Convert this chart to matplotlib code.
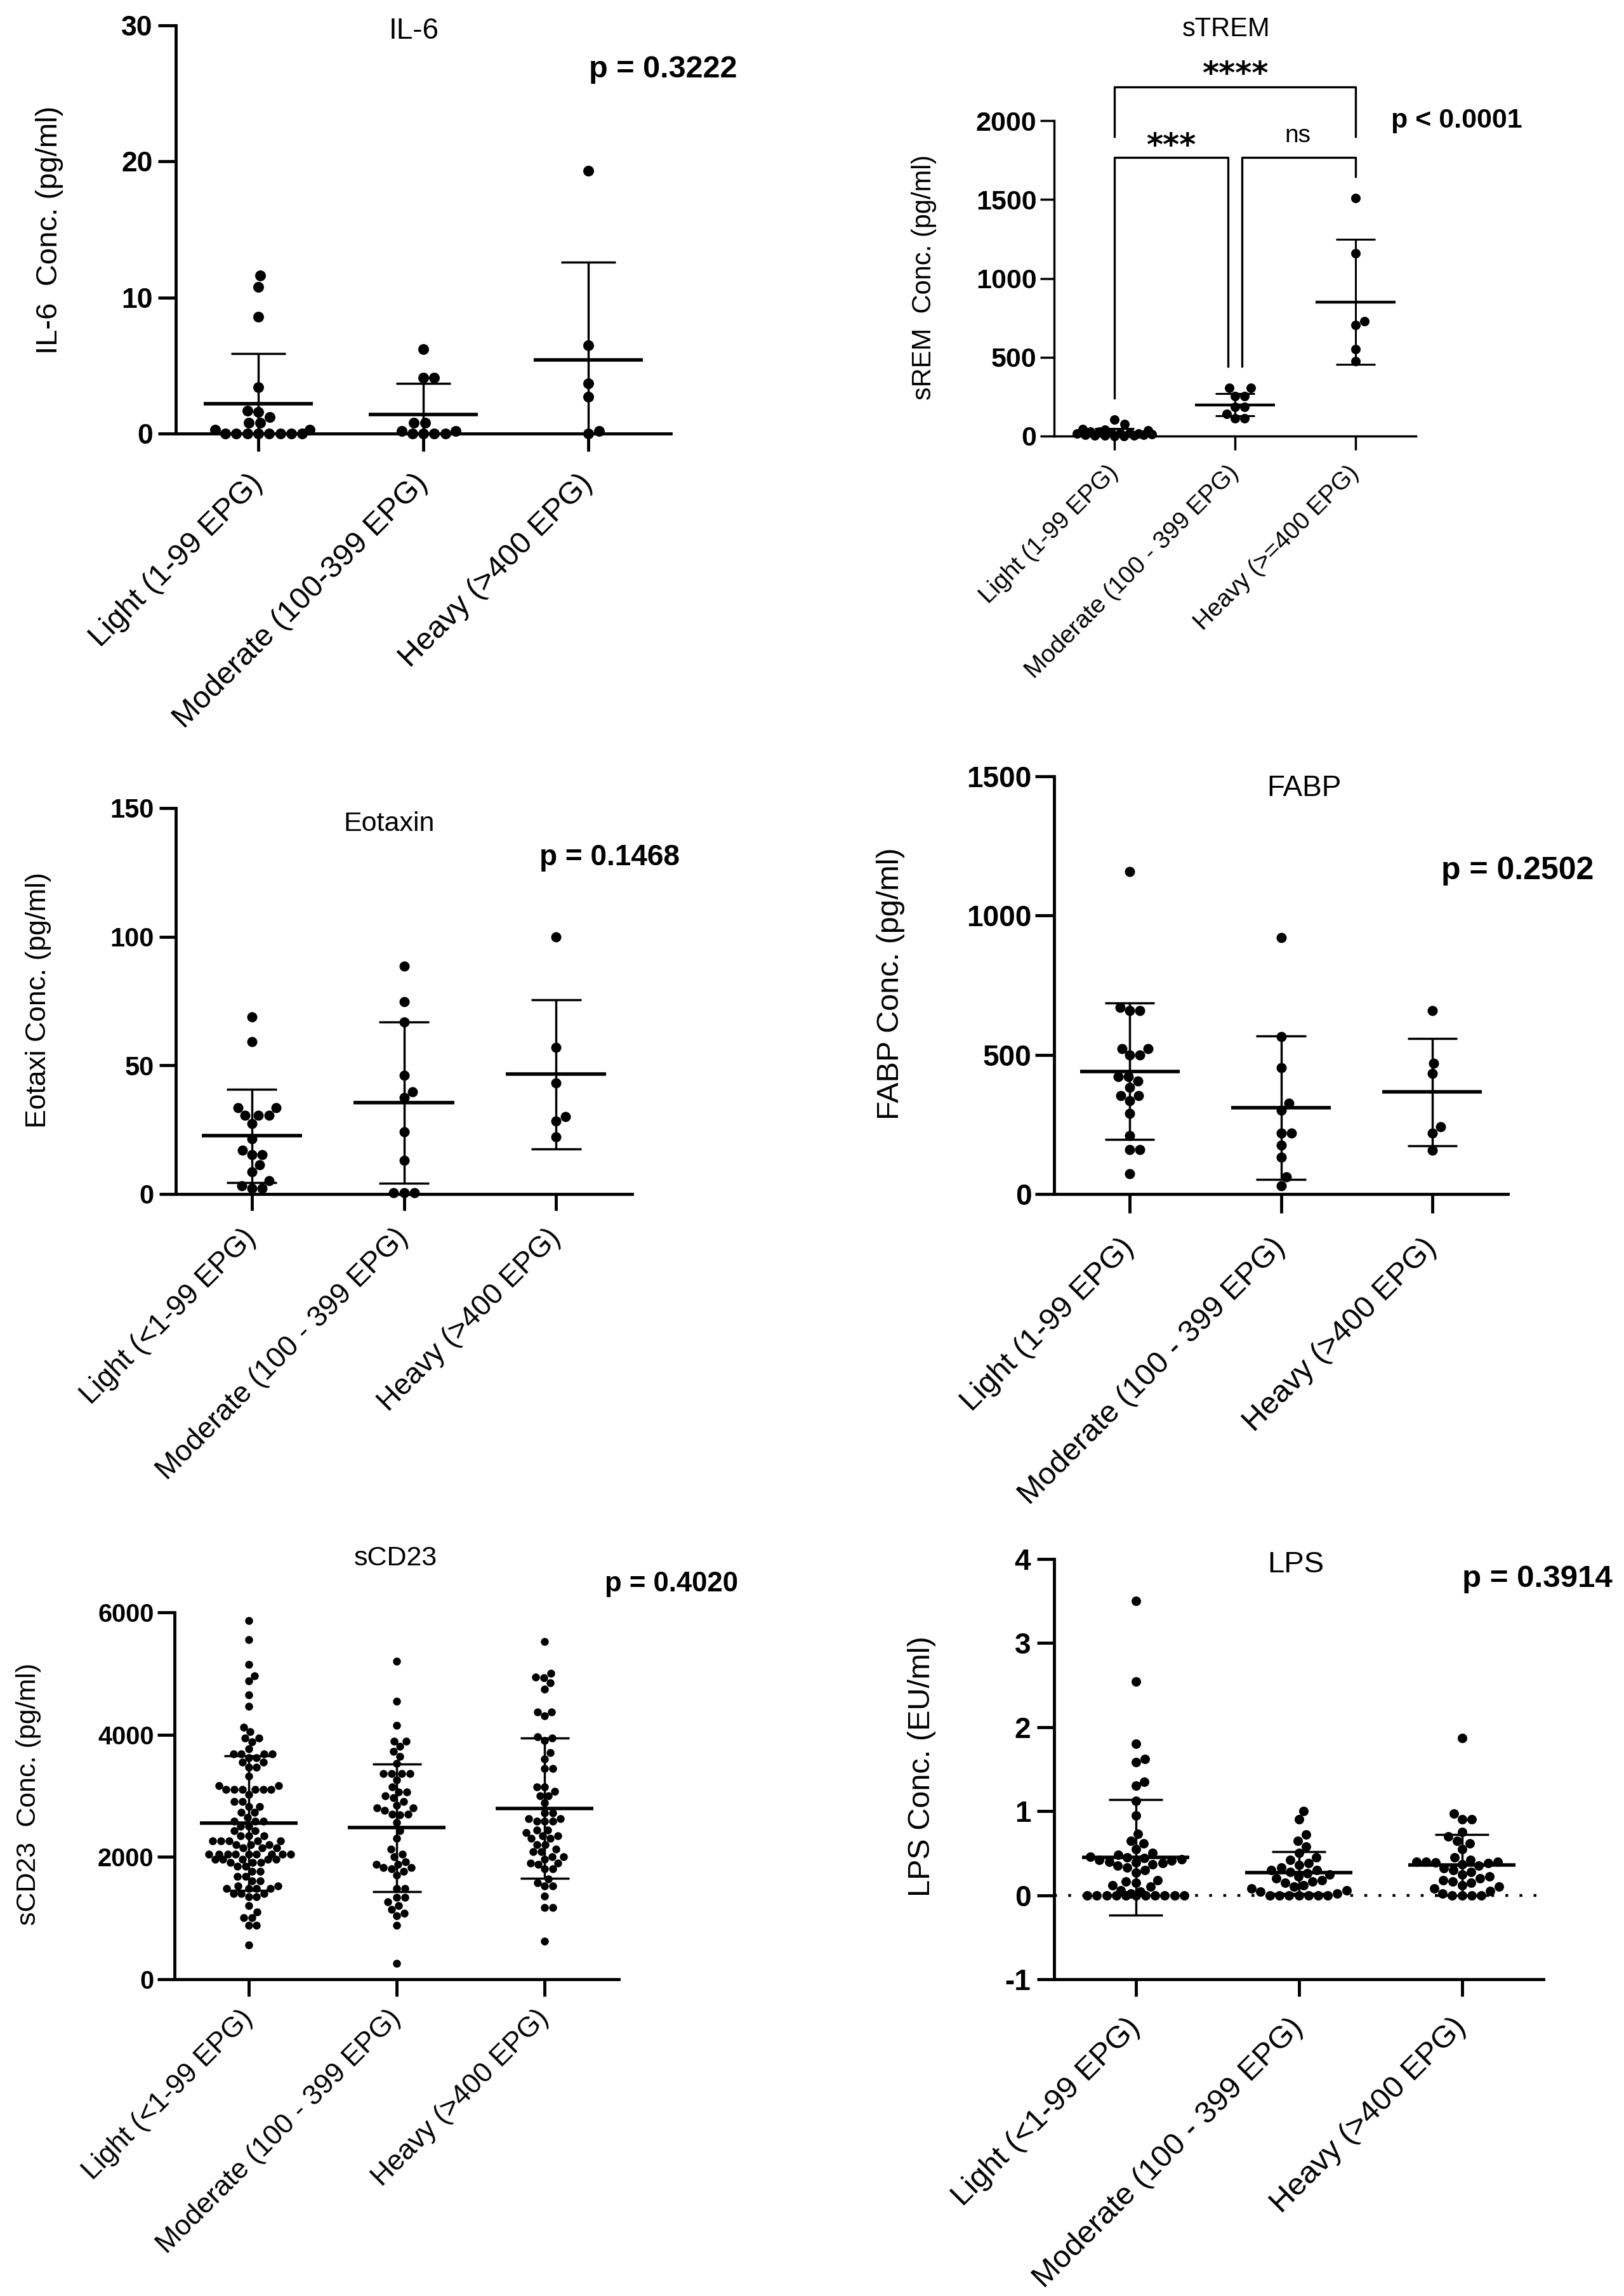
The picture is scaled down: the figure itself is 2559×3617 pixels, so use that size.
import numpy as np
import matplotlib
matplotlib.use("Agg")
import matplotlib.pyplot as plt

plt.rcParams['font.family'] = ['Liberation Sans', 'DejaVu Sans']

W, H = 2559, 3617

# ---- data ----
il6_light = [11.6, 10.8, 8.6, 3.4, 1.7, 1.6, 1.2, 0.8, 0.8, 0.3, 0.3, 0, 0, 0, 0, 0, 0, 0, 0]
il6_moderate = [6.2, 4.1, 4.1, 0.8, 0.8, 0.2, 0.2, 0, 0, 0, 0]
il6_heavy = [19.3, 6.5, 3.7, 2.7, 0.2, 0]
il6_mean = [2.2, 1.4, 5.4]
il6_sd = [3.7, 2.3, 7.2]

strem_light = [105, 77, 45, 40, 35, 30, 28, 25, 22, 20, 18, 15, 12, 10, 8, 6, 5, 3, 2, 0]
strem_moderate = [304, 304, 255, 255, 184, 184, 142, 113, 113]
strem_heavy = [1509, 1157, 729, 703, 553, 474]
strem_mean = [22, 199, 851]
strem_sd = [27, 71, 398]

eot_light = [68.8, 59.1, 33.5, 33.5, 30.6, 30.6, 30.6, 27.5, 21.4, 17, 15.3, 15.3, 11.3, 8.7, 5.2, 3.1, 2.3, 2.3]
eot_moderate = [88.6, 74.7, 66.9, 46.1, 39.6, 37.5, 24.3, 13.0, 0.5, 0.5, 0.5]
eot_heavy = [100, 57, 43.1, 30.1, 28.3, 22.2]
eot_mean = [22.6, 35.6, 46.6]
eot_sd = [18.1, 31.3, 29.0]

fabp_light = [1158, 671, 659, 659, 523, 523, 499, 499, 422, 422, 406, 382, 353, 353, 334, 289, 209, 160, 160, 72]
fabp_moderate = [922, 565, 454, 326, 302, 218, 218, 176, 133, 61, 29]
fabp_heavy = [659, 470, 433, 241, 218, 157]
fabp_mean = [441, 310, 366]
fabp_sd = [246, 258, 193]

cd23_light = [5867, 5555, 5146, 4966, 4874, 4654, 4466, 4125, 4045, 3945, 3945, 3885, 3765,
              3685, 3685, 3685, 3685, 3625, 3625, 3545, 3545, 3465, 3465, 3325, 3165, 3165,
              3105, 3105, 3105, 3105, 3105, 3105, 3025, 2905, 2905, 2825, 2825, 2725, 2725,
              2645, 2585, 2585, 2585, 2505, 2505, 2425, 2425, 2345, 2345, 2345, 2265, 2265,
              2265, 2265, 2265, 2205, 2205, 2205, 2145, 2145, 2145, 2045, 2045, 2045, 2045,
              2045, 2045, 2045, 2045, 2045, 1965, 1965, 1965, 1965, 1965, 1905, 1905, 1905,
              1845, 1845, 1765, 1765, 1685, 1685, 1605, 1605, 1525, 1525, 1485, 1485, 1485,
              1485, 1405, 1405, 1405, 1345, 1345, 1205, 1105, 1005, 1005, 885, 885, 565]
cd23_moderate = [5199, 4546, 4157, 3893, 3893, 3805, 3725, 3645, 3525, 3364, 3364, 3364, 3364,
                 3264, 3144, 3064, 3064, 3004, 2964, 2904, 2844, 2804, 2804, 2764, 2704, 2704,
                 2684, 2564, 2424, 2304, 2123, 2043, 2003, 1923, 1883, 1883, 1823, 1823, 1802,
                 1762, 1702, 1482, 1482, 1342, 1342, 1262, 1202, 1141, 1081, 1041, 881, 260]
cd23_heavy = [5527, 5006, 4946, 4934, 4846, 4746, 4373, 4373, 4305, 3965, 3945, 3905, 3705,
              3604, 3444, 3444, 3144, 3144, 3076, 3004, 3004, 2884, 2723, 2723, 2623, 2623,
              2583, 2583, 2583, 2443, 2443, 2403, 2343, 2343, 2303, 2303, 2203, 2203, 2123,
              2083, 2083, 2003, 2003, 1962, 1902, 1902, 1882, 1802, 1802, 1642, 1582, 1522,
              1522, 1362, 1169, 1169, 621]
cd23_mean = [2555, 2477, 2797]
cd23_sd = [1101, 1046, 1148]

lps_light = [3.5, 2.54, 1.8, 1.62, 1.58, 1.35, 1.30, 1.12, 0.95, 0.73, 0.65, 0.62, 0.55, 0.50,
             0.48, 0.46, 0.45, 0.44, 0.43, 0.42, 0.41, 0.40, 0.39, 0.38, 0.37, 0.35, 0.33, 0.30,
             0.27, 0.18, 0.16, 0.15, 0.12, 0.10, 0.06, 0.04, 0.02, 0, 0, 0, 0, 0, 0, 0, 0, 0, 0, 0]
lps_moderate = [1.0, 0.9, 0.72, 0.65, 0.58, 0.5, 0.45, 0.42, 0.38, 0.36, 0.33, 0.3, 0.3, 0.28,
                0.26, 0.25, 0.22, 0.2, 0.18, 0.16, 0.15, 0.12, 0.1, 0.08, 0.06, 0.04, 0.02,
                0, 0, 0, 0, 0, 0, 0]
lps_heavy = [1.87, 0.97, 0.9, 0.9, 0.75, 0.7, 0.65, 0.62, 0.55, 0.45, 0.42, 0.4, 0.4, 0.4, 0.39,
             0.38, 0.37, 0.35, 0.32, 0.3, 0.28, 0.25, 0.22, 0.2, 0.18, 0.16, 0.15, 0.12, 0.1,
             0.08, 0.05, 0.02, 0, 0, 0, 0]
lps_mean = [0.45, 0.27, 0.36]
lps_sd = [0.69, 0.25, 0.36]

cats_a = ["Light (1-99 EPG)", "Moderate (100-399 EPG)", "Heavy (>400 EPG)"]
cats_b = ["Light (1-99 EPG)", "Moderate (100 - 399 EPG)", "Heavy (>=400 EPG)"]
cats_c = ["Light (<1-99 EPG)", "Moderate (100 - 399 EPG)", "Heavy (>400 EPG)"]
cats_d = ["Light (1-99 EPG)", "Moderate (100 - 399 EPG)", "Heavy (>400 EPG)"]

fig = plt.figure(figsize=(W / 100, H / 100), dpi=100)
PT = 0.72  # px -> pt at 100 dpi


def put(x, y, s, **kw):
    fig.text(x / W, 1 - y / H, s, ha='center', va='center', **kw)


def swarm(vals, ppu, d, wmax):
    # beeswarm in pixels; if a point does not fit inside +-wmax it overlaps the least crowded spot
    y = np.asarray(vals, float) * ppu
    xs = np.zeros_like(y)
    done = []
    for i in np.argsort(y, kind='stable'):
        cands = [0.0]
        for j in done:
            dy = y[i] - y[j]
            if abs(dy) < d:
                dx = np.sqrt(d * d - dy * dy)
                cands += [xs[j] + dx, xs[j] - dx]
        cands = sorted([c for c in cands if abs(c) <= wmax + 1e-9], key=abs)
        ok = False
        for c in cands:
            if all((c - xs[j]) ** 2 + (y[i] - y[j]) ** 2 >= d * d - 1e-6 for j in done):
                xs[i] = c
                ok = True
                break
        if not ok:
            grid = np.linspace(-wmax, wmax, 41)
            score = [min(np.hypot(c - xs[j], y[i] - y[j]) for j in done) - 1e-3 * abs(c)
                     for c in grid]
            xs[i] = grid[int(np.argmax(score))]
        done.append(i)
    return xs


def panel(box, groups, means, sds, ylim, yticks, cats, fs, dot, lw=3.5, mlw=4.0, elw=2.5,
          tlen=27, ypad=5, xpad=30):
    x0, x1, yt, yb = box
    ax = fig.add_axes([x0 / W, 1 - yb / H, (x1 - x0) / W, (yb - yt) / H])
    ax.set_xlim(-0.5, 2.5)
    ax.set_ylim(*ylim)
    ppu_y = (yb - yt) / (ylim[1] - ylim[0])
    ppu_x = (x1 - x0) / 3.0
    for i, vals in enumerate(groups):
        offs = swarm(vals, ppu_y, dot * 1.02, 0.31 * ppu_x) / ppu_x
        ax.plot(i + offs, vals, 'o', ms=dot * PT, color='black', mec='none',
                clip_on=False, zorder=2)
    for i, (m, s) in enumerate(zip(means, sds)):
        ax.hlines(m, i - 0.33, i + 0.33, color='black', lw=mlw, zorder=3)
        ax.vlines(i, m - s, m + s, color='black', lw=elw, zorder=3)
        ax.hlines([m - s, m + s], i - 0.165, i + 0.165, color='black', lw=elw, zorder=3)
    for side in ['top', 'right']:
        ax.spines[side].set_visible(False)
    for side in ['left', 'bottom']:
        ax.spines[side].set_linewidth(lw)
    ax.set_yticks(yticks)
    ax.set_yticklabels([str(v) for v in yticks], fontweight='bold', fontsize=fs[0])
    ax.set_xticks([0, 1, 2])
    ax.set_xticklabels(cats, rotation=45, ha='right', va='center',
                       rotation_mode='anchor', fontsize=fs[1])
    ax.tick_params(axis='y', length=tlen * PT, width=lw, pad=ypad)
    ax.tick_params(axis='x', length=tlen * PT, width=lw, pad=xpad)
    ax.set_facecolor('none')
    return ax


# IL-6
panel((277, 1057, 40, 683), [il6_light, il6_moderate, il6_heavy], il6_mean, il6_sd,
      (0, 30), [0, 10, 20, 30], cats_a, (32, 35), 17, tlen=28, ypad=6, xpad=31)
put(78, 362, "IL-6  Conc. (pg/ml)", rotation=90, fontsize=34)
put(652, 49, "IL-6", fontsize=33)
put(1045, 109, "p = 0.3222", fontsize=35, fontweight='bold')

# sTREM
ax = panel((1661, 2231, 190, 687), [strem_light, strem_moderate, strem_heavy], strem_mean,
           strem_sd, (0, 2000), [0, 500, 1000, 1500, 2000], cats_b, (31, 28), 15,
           lw=2.5, mlw=3.2, elw=2.2, tlen=22, ypad=4, xpad=22)
ax.plot([0, 0, 2, 2], [1900, 2213, 2213, 1900], color='black', lw=2.4, clip_on=False)
ax.plot([0, 0, 0.94, 0.94], [241, 1767, 1767, 443], color='black', lw=2.4, clip_on=False)
ax.plot([1.06, 1.06, 2, 2], [443, 1767, 1767, 1646], color='black', lw=2.4, clip_on=False)
ax.text(1.0, 2233, "****", ha='center', va='baseline', fontsize=36, fontweight='bold',
        family='DejaVu Sans')
ax.text(0.47, 1779, "***", ha='center', va='baseline', fontsize=36, fontweight='bold',
        family='DejaVu Sans')
ax.text(1.52, 1863, "ns", ha='center', va='baseline', fontsize=28)
put(1456, 437, "sREM  Conc. (pg/ml)", rotation=90, fontsize=30)
put(1932, 46, "sTREM", fontsize=30)
put(2295, 190, "p < 0.0001", fontsize=31, fontweight='bold')

# Eotaxin
panel((277, 996, 1273, 1881), [eot_light, eot_moderate, eot_heavy], eot_mean, eot_sd,
      (0, 150), [0, 50, 100, 150], cats_c, (30, 33), 16, tlen=26, ypad=6, xpad=26)
put(61, 1576, "Eotaxi Conc. (pg/ml)", rotation=90, fontsize=32)
put(613, 1298, "Eotaxin", fontsize=31)
put(961, 1351, "p = 0.1468", fontsize=33, fontweight='bold')

# FABP
panel((1661, 2376, 1223, 1881), [fabp_light, fabp_moderate, fabp_heavy], fabp_mean, fabp_sd,
      (0, 1500), [0, 500, 1000, 1500], cats_d, (33, 35), 16, tlen=30, ypad=4, xpad=34)
put(1403, 1550, "FABP Conc. (pg/ml)", rotation=90, fontsize=35)
put(2055, 1242, "FABP", fontsize=33)
put(2391, 1372, "p = 0.2502", fontsize=36, fontweight='bold')

# sCD23
panel((275, 975, 2540, 3118), [cd23_light, cd23_moderate, cd23_heavy], cd23_mean, cd23_sd,
      (0, 6000), [0, 2000, 4000, 6000], cats_c, (28.5, 32), 12.5, tlen=27, ypad=4, xpad=20)
put(45, 2826, "sCD23  Conc. (pg/ml)", rotation=90, fontsize=31)
put(623, 2455, "sCD23", fontsize=31)
put(1058, 2496, "p = 0.4020", fontsize=31.5, fontweight='bold')

# LPS
ax = panel((1661, 2432, 2456, 3118), [lps_light, lps_moderate, lps_heavy], lps_mean, lps_sd,
           (-1, 4), [-1, 0, 1, 2, 3, 4], cats_c, (33, 35.5), 15, tlen=27, ypad=7, xpad=30)
ax.axhline(0, color='black', lw=3.2, ls=(0, (1, 4)), zorder=1)
put(1452, 2783, "LPS Conc. (EU/ml)", rotation=90, fontsize=35)
put(2042, 2465, "LPS", fontsize=34)
put(2422, 2488, "p = 0.3914", fontsize=35.5, fontweight='bold')

fig.savefig("out.png", dpi=100, facecolor='white')
